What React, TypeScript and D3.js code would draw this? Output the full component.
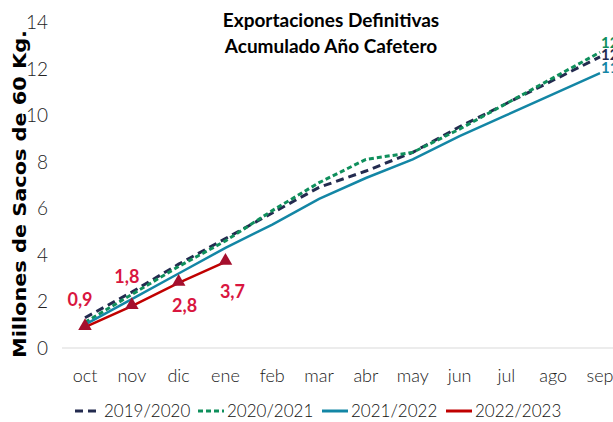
import React, { useEffect, useRef } from "react";
import * as d3 from "d3";

const months = ["oct", "nov", "dic", "ene", "feb", "mar", "abr", "may", "jun", "jul", "ago", "sep"];
const yTicks = [0, 2, 4, 6, 8, 10, 12, 14];

const s2019 = [1.3, 2.4, 3.6, 4.7, 5.8, 6.9, 7.6, 8.4, 9.5, 10.5, 11.5, 12.5];
const s2020 = [1.1, 2.3, 3.5, 4.6, 5.9, 7.1, 8.1, 8.4, 9.4, 10.5, 11.6, 12.7];
const s2021 = [1.0, 2.1, 3.2, 4.3, 5.3, 6.4, 7.3, 8.1, 9.1, 10.0, 10.9, 11.8];
const s2022 = [0.9, 1.8, 2.8, 3.7];

const seriesNames = ["2019/2020", "2020/2021", "2021/2022", "2022/2023"];

const App = () => {
  const svgRef = useRef<SVGSVGElement>(null);

  useEffect(() => {
    const svg = d3.select(svgRef.current);
    svg.selectAll("*").remove();

    const font = "Lato, 'Noto Sans', sans-serif";

    const x = d3.scalePoint<string>().domain(months).range([85, 600]);
    const y = d3.scaleLinear().domain([0, 14]).range([348, 22]);

    // title
    svg.append("text")
      .attr("x", 331).attr("y", 27)
      .attr("text-anchor", "middle")
      .style("font-family", font).style("font-weight", "700").style("font-size", "19px")
      .attr("fill", "#000")
      .text("Exportaciones Definitivas");
    svg.append("text")
      .attr("x", 331).attr("y", 53)
      .attr("text-anchor", "middle")
      .style("font-family", font).style("font-weight", "700").style("font-size", "19px")
      .attr("fill", "#000")
      .text("Acumulado Año Cafetero");

    // y axis title
    svg.append("text")
      .attr("transform", "translate(26,194) rotate(-90)")
      .attr("text-anchor", "middle")
      .attr("textLength", 328)
      .attr("lengthAdjust", "spacingAndGlyphs")
      .style("font-family", "'DejaVu Sans', sans-serif").style("font-weight", "700").style("font-size", "17px")
      .attr("fill", "#000")
      .text("Millones de Sacos de 60 Kg.");

    // baseline
    svg.append("line")
      .attr("x1", 62).attr("x2", 613)
      .attr("y1", y(0)).attr("y2", y(0))
      .attr("stroke", "#d9d9d9").attr("stroke-width", 1);

    // y tick labels
    svg.selectAll(".ytick")
      .data(yTicks)
      .enter()
      .append("text")
      .attr("class", "ytick")
      .attr("x", 48)
      .attr("y", (d) => y(d) + 7)
      .attr("text-anchor", "end")
      .style("font-family", font).style("font-weight", "300").style("font-size", "19px")
      .attr("fill", "#222")
      .text((d) => d);

    // x tick labels
    svg.selectAll(".xtick")
      .data(months)
      .enter()
      .append("text")
      .attr("class", "xtick")
      .attr("x", (d) => x(d)!)
      .attr("y", 382)
      .attr("text-anchor", "middle")
      .style("font-family", font).style("font-weight", "300").style("font-size", "18px")
      .attr("fill", "#222")
      .text((d) => d);

    const line = d3.line<number>()
      .x((_, i) => x(months[i])!)
      .y((d) => y(d));

    const styles = [
      { data: s2019, color: "#232b4f", width: 3, dash: "8,5" },
      { data: s2020, color: "#0f8f5c", width: 3, dash: "5,3" },
      { data: s2021, color: "#1386a5", width: 2.5, dash: null },
      { data: s2022, color: "#c00000", width: 2.5, dash: null },
    ];

    styles.forEach((s) => {
      svg.append("path")
        .datum(s.data)
        .attr("d", line)
        .attr("fill", "none")
        .attr("stroke", s.color)
        .attr("stroke-width", s.width)
        .attr("stroke-dasharray", s.dash);
    });

    // end labels (cut at the right edge, as in the source)
    const endLabels = [
      { data: s2020, color: "#0f8f5c", dy: -4 },
      { data: s2019, color: "#232b4f", dy: 3 },
      { data: s2021, color: "#1386a5", dy: 0 },
    ];
    endLabels.forEach((l) => {
      const v = l.data[l.data.length - 1];
      svg.append("text")
        .attr("x", x("sep")! + 1)
        .attr("y", y(v) + l.dy)
        .style("font-family", font).style("font-weight", "700").style("font-size", "15px")
        .attr("fill", l.color)
        .text(d3.format(".1f")(v).replace(".", ","));
    });

    // triangle markers
    svg.selectAll(".mk")
      .data(s2022)
      .enter()
      .append("path")
      .attr("class", "mk")
      .attr("d", d3.symbol().type(d3.symbolTriangle).size(80))
      .attr("transform", (d, i) => `translate(${x(months[i])},${y(d) - 1})`)
      .attr("fill", "#a50f2d");

    // data labels
    const offsets = [[-5, -21], [-5, -23], [6, 29], [7, 36]];
    svg.selectAll(".dl")
      .data(s2022)
      .enter()
      .append("text")
      .attr("class", "dl")
      .attr("x", (d, i) => x(months[i])! + offsets[i][0])
      .attr("y", (d, i) => y(d) + offsets[i][1])
      .attr("text-anchor", "middle")
      .style("font-family", font).style("font-weight", "700").style("font-size", "18px")
      .attr("fill", "#d9163f")
      .text((d) => d3.format(".1f")(d).replace(".", ","));

    // legend
    const legendX = [75, 198, 322, 446];
    const legend = svg.selectAll(".lg")
      .data(styles)
      .enter()
      .append("g")
      .attr("class", "lg")
      .attr("transform", (d, i) => `translate(${legendX[i]},411)`);
    legend.append("line")
      .attr("x1", 0).attr("x2", 26)
      .attr("y1", 0).attr("y2", 0)
      .attr("stroke", (d) => d.color)
      .attr("stroke-width", 3)
      .attr("stroke-dasharray", (d) => d.dash);
    legend.append("text")
      .attr("x", 29).attr("y", 6)
      .style("font-family", font).style("font-weight", "300").style("font-size", "17px")
      .attr("fill", "#111")
      .text((d, i) => seriesNames[i]);
  }, []);

  return (
    <svg ref={svgRef} width={613} height={422}
      style={{ position: "absolute", left: 0, top: 0, background: "#fff" }} />
  );
};

export default App;
